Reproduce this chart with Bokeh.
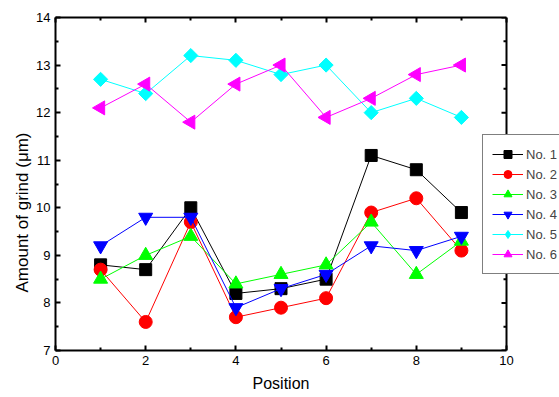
import math
from bokeh.plotting import figure
from bokeh.models import (Range1d, LinearAxis, FixedTicker, Legend, LegendItem, Span,
                          Title, CustomLabelingPolicy)
from bokeh.embed import file_html
from bokeh.resources import INLINE

positions = [1, 2, 3, 4, 5, 6, 7, 8, 9]
series_names = ["No. 1", "No. 2", "No. 3", "No. 4", "No. 5", "No. 6"]
no1 = [8.8, 8.7, 10.0, 8.2, 8.3, 8.5, 11.1, 10.8, 9.9]
no2 = [8.7, 7.6, 9.7, 7.7, 7.9, 8.1, 9.9, 10.2, 9.1]
no3 = [8.5, 9.0, 9.4, 8.4, 8.6, 8.8, 9.7, 8.6, 9.3]
no4 = [9.2, 9.8, 9.8, 7.9, 8.3, 8.6, 9.2, 9.1, 9.4]
no5 = [12.7, 12.4, 13.2, 13.1, 12.8, 13.0, 12.0, 12.3, 11.9]
no6 = [12.1, 12.6, 11.8, 12.6, 13.0, 11.9, 12.3, 12.8, 13.0]
series_values = [no1, no2, no3, no4, no5, no6]

x_major = [0, 2, 4, 6, 8, 10]
x_minor = [1, 3, 5, 7, 9]
y_major = [7, 8, 9, 10, 11, 12, 13, 14]
y_minor = [7.5, 8.5, 9.5, 10.5, 11.5, 12.5, 13.5]
X_MIN, X_MAX = 0, 10
Y_MIN, Y_MAX = 7, 14

colors = ["#000000", "#FF0000", "#00FF00", "#0000FF", "#00FFFF", "#FF00FF"]
markers = ["square", "circle", "triangle", "inverted_triangle", "square", "triangle"]
sizes = [12, 13, 14, 14, 10, 14]
angles = [0, 0, 0, 0, math.pi / 4, math.pi / 2]
legend_markers = ["square", "circle", "triangle", "inverted_triangle", "diamond", "triangle"]
legend_sizes = [7, 8, 9, 9, 10, 9]

FONT = "Liberation Sans"

# frame spans 55..559 px; x=10 sits at ~506 px (the rest holds the clipped legend)
frame_left, frame_right_axis, canvas_w = 55, 506, 559
x_end = X_MAX * (canvas_w - frame_left) / (frame_right_axis - frame_left)

p = figure(width=559, height=397, output_backend="svg", toolbar_location=None,
           x_range=Range1d(X_MIN, x_end), y_range=Range1d(Y_MIN, Y_MAX),
           min_border_left=55, min_border_right=0, min_border_top=17, min_border_bottom=47)
p.xgrid.visible = False
p.ygrid.visible = False
p.outline_line_color = None
p.background_fill_color = "white"
p.border_fill_color = "white"

bottom = p.below[0]
left = p.left[0]
bottom.ticker = FixedTicker(ticks=x_major, minor_ticks=x_minor)
left.ticker = FixedTicker(ticks=y_major, minor_ticks=y_minor)
bottom.bounds = (X_MIN, X_MAX)

top = LinearAxis(ticker=FixedTicker(ticks=x_major, minor_ticks=x_minor), bounds=(X_MIN, X_MAX))
p.add_layout(top, "above")

for ax in [bottom, left, top]:
    ax.axis_line_width = 2
    ax.axis_line_color = "black"
    ax.major_tick_in = 5
    ax.major_tick_out = 0
    ax.minor_tick_in = 3
    ax.minor_tick_out = 0
    ax.major_tick_line_width = 2
    ax.minor_tick_line_width = 2
    ax.major_tick_line_color = "black"
    ax.minor_tick_line_color = "black"
    ax.major_label_text_font = FONT
    ax.major_label_text_font_size = "13px"
    ax.major_label_text_color = "black"
    ax.major_label_standoff = 5

# top spine: ticks only, no labels
top.major_label_policy = CustomLabelingPolicy(code="return new Set()")
top.major_label_text_font_size = "1px"
top.major_label_standoff = 0

# axis titles placed to match the reference
xlab = Title(text="Position", align="left", offset=252 - 55, standoff=10,
             text_font=FONT, text_font_size="16px", text_font_style="normal", text_color="black")
p.add_layout(xlab, "below")
ylab = Title(text="Amount of grind (μm)", align="left", offset=350 - 292, standoff=4,
             text_font=FONT, text_font_size="17px", text_font_style="normal", text_color="black")
p.add_layout(ylab, "left")

# right spine at x = 10 with inward ticks
p.add_layout(Span(location=X_MAX, dimension="height", line_color="black", line_width=2))
p.ray(x=[X_MAX] * len(y_major), y=y_major, length=5, length_units="screen",
      angle=math.pi, line_color="black", line_width=2)
p.ray(x=[X_MAX] * len(y_minor), y=y_minor, length=3, length_units="screen",
      angle=math.pi, line_color="black", line_width=2)

items = []
for name, vals, c, m, s, a, lm, ls in zip(series_names, series_values, colors, markers,
                                          sizes, angles, legend_markers, legend_sizes):
    ln = p.line(positions, vals, line_color=c, line_width=1)
    p.scatter(positions, vals, marker=m, size=s, angle=a, fill_color=c, line_color=c)
    lg = p.scatter(positions, vals, marker=lm, size=ls, fill_color=c, line_color=c, visible=False)
    items.append(LegendItem(label=name, renderers=[ln, lg]))

legend = Legend(items=items, location=(427, 76))
legend.label_text_font = FONT
legend.label_text_font_size = "13px"
legend.border_line_color = "black"
legend.border_line_width = 1
legend.background_fill_color = "white"
legend.background_fill_alpha = 1
legend.glyph_width = 31
legend.glyph_height = 20
legend.label_height = 20
legend.spacing = 0
legend.padding = 9
legend.margin = 0
legend.label_standoff = 3
p.add_layout(legend, "center")

open("out.html", "w").write(file_html(p, INLINE))
